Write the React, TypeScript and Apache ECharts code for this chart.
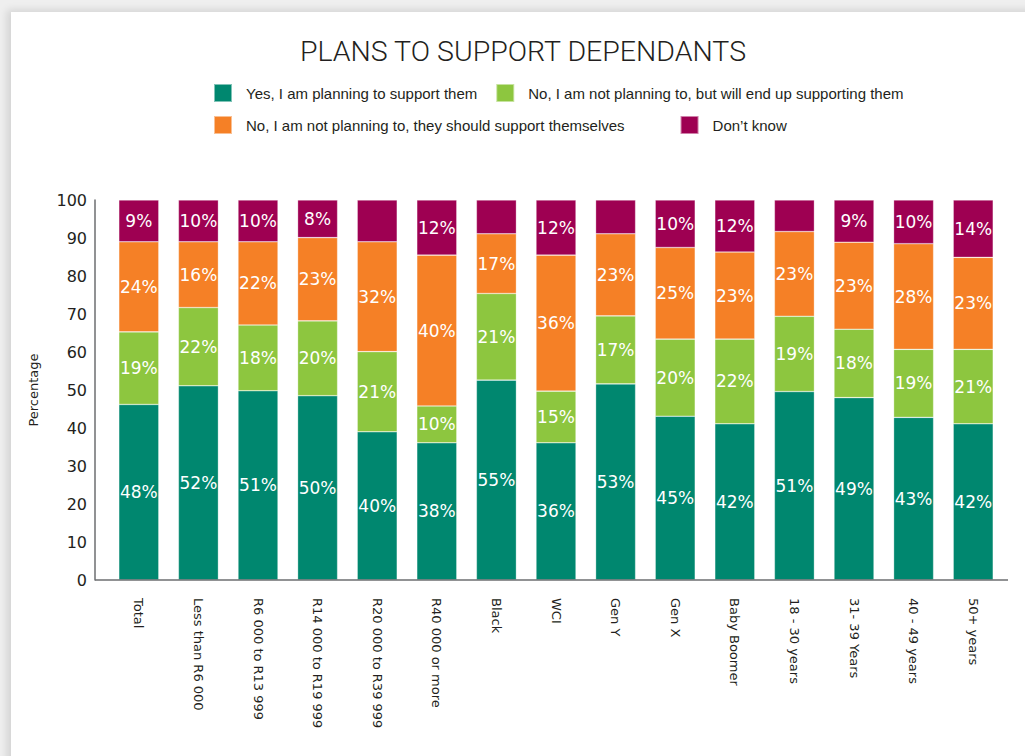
import React, { useEffect, useRef } from "react";
import * as echarts from "echarts";

const categories = [
  "Total",
  "Less than R6 000",
  "R6 000 to R13 999",
  "R14 000 to R19 999",
  "R20 000 to R39 999",
  "R40 000 or more",
  "Black",
  "WCI",
  "Gen Y",
  "Gen X",
  "Baby Boomer",
  "18 - 30 years",
  "31- 39 Years",
  "40 - 49 years",
  "50+ years",
];

const seriesNames = [
  "Yes, I am planning to support them",
  "No, I am not planning to, but will end up supporting them",
  "No, I am not planning to, they should support themselves",
  "Don\u2019t know",
];

// Bar segment heights as drawn in the picture
const yesHeights = [46.2, 51.1, 49.8, 48.5, 39.0, 36.1, 52.6, 36.1, 51.6, 43.1, 41.1, 49.6, 48.0, 42.8, 41.1];
const endUpHeights = [19.1, 20.6, 17.3, 19.7, 21.1, 9.7, 22.8, 13.6, 17.9, 20.3, 22.3, 19.8, 18.0, 17.9, 19.6];
const themselvesHeights = [23.7, 17.3, 21.9, 21.9, 28.9, 39.7, 15.7, 35.8, 21.6, 24.1, 22.9, 22.3, 22.9, 27.8, 24.2];
const dontKnowHeights = [11.0, 11.0, 11.0, 9.9, 11.0, 14.5, 8.9, 14.5, 8.9, 12.5, 13.7, 8.3, 11.1, 11.5, 15.1];

// Printed percentage labels (null = no label shown)
const yesLabels = [48, 52, 51, 50, 40, 38, 55, 36, 53, 45, 42, 51, 49, 43, 42];
const endUpLabels = [19, 22, 18, 20, 21, 10, 21, 15, 17, 20, 22, 19, 18, 19, 21];
const themselvesLabels = [24, 16, 22, 23, 32, 40, 17, 36, 23, 25, 23, 23, 23, 28, 23];
const dontKnowLabels: (number | null)[] = [9, 10, 10, 8, null, 12, null, 12, null, 10, 12, null, 9, 10, 14];

const yTicks = { min: 0, max: 100, interval: 10 };

const colors = ["#00876f", "#8dc63f", "#f58026", "#9e0052"];

export default function App() {
  const ref = useRef<HTMLDivElement>(null);

  useEffect(() => {
    if (!ref.current) return;
    const chart = echarts.init(ref.current, null, { renderer: "svg" });
    const heights = [yesHeights, endUpHeights, themselvesHeights, dontKnowHeights];
    const labels = [yesLabels, endUpLabels, themselvesLabels, dontKnowLabels];
    const legendText = {
      fontFamily: "Liberation Sans",
      fontSize: 15,
      color: "#231f20",
      padding: [0, 0, 0, 9],
    };
    chart.setOption({
      animation: false,
      color: colors,
      title: {
        text: "PLANS TO SUPPORT DEPENDANTS",
        left: 518,
        textAlign: "center",
        top: 32,
        textStyle: {
          fontFamily: "Roboto",
          fontSize: 28.5,
          fontWeight: 300,
          color: "#231f20",
        },
      },
      legend: [
        {
          data: [seriesNames[0], seriesNames[1]],
          left: 208,
          top: 78,
          itemWidth: 18,
          itemHeight: 18,
          itemGap: 18,
          icon: "rect",
          textStyle: legendText,
        },
        {
          data: [seriesNames[2], seriesNames[3]],
          left: 208,
          top: 110,
          itemWidth: 18,
          itemHeight: 18,
          itemGap: 55,
          icon: "rect",
          textStyle: legendText,
        },
      ],
      grid: { left: 109, right: 22, top: 200, bottom: 176 },
      xAxis: {
        type: "category",
        data: categories,
        axisLine: { show: false },
        axisTick: { show: false },
        axisLabel: {
          rotate: -90,
          margin: 18,
          interval: 0,
          fontFamily: "DejaVu Sans",
          fontSize: 13,
          color: "#231f20",
        },
      },
      yAxis: {
        type: "value",
        min: yTicks.min,
        max: yTicks.max,
        interval: yTicks.interval,
        offset: 14,
        name: "Percentage",
        nameLocation: "middle",
        nameGap: 55,
        nameTextStyle: { fontFamily: "DejaVu Sans", fontSize: 13, color: "#231f20" },
        axisLine: { show: true, lineStyle: { color: "#6d6e71", width: 1.5 } },
        axisTick: { show: false },
        splitLine: { show: false },
        axisLabel: {
          margin: 8,
          fontFamily: "DejaVu Sans",
          fontSize: 16,
          color: "#231f20",
        },
      },
      graphic: [
        {
          type: "line",
          shape: { x1: 95, y1: 580, x2: 1008, y2: 580 },
          style: { stroke: "#6d6e71", lineWidth: 1.5 },
          z: 10,
        },
      ],
      series: heights.map((h, si) => ({
        name: seriesNames[si],
        type: "bar",
        stack: "total",
        barWidth: 40,
        data: h,
        itemStyle: { borderColor: "rgba(255,255,255,0.5)", borderWidth: 0.6 },
        label: {
          show: true,
          position: "inside",
          color: "#ffffff",
          fontFamily: "DejaVu Sans",
          fontSize: 17,
          formatter: (p: any) => {
            const v = labels[si][p.dataIndex];
            return v === null || v === undefined ? "" : v + "%";
          },
        },
      })),
    });
    return () => chart.dispose();
  }, []);

  return (
    <div style={{ position: "fixed", left: 0, top: 0, width: 1025, height: 756, background: "#efefef", overflow: "hidden" }}>
      <div
        style={{
          position: "absolute",
          left: 11,
          top: 12,
          width: 1030,
          height: 760,
          background: "#ffffff",
          boxShadow: "-4px -2px 8px rgba(0,0,0,0.12)",
        }}
      />
      <div ref={ref} style={{ position: "absolute", left: 0, top: 0, width: 1025, height: 756 }} />
    </div>
  );
}
